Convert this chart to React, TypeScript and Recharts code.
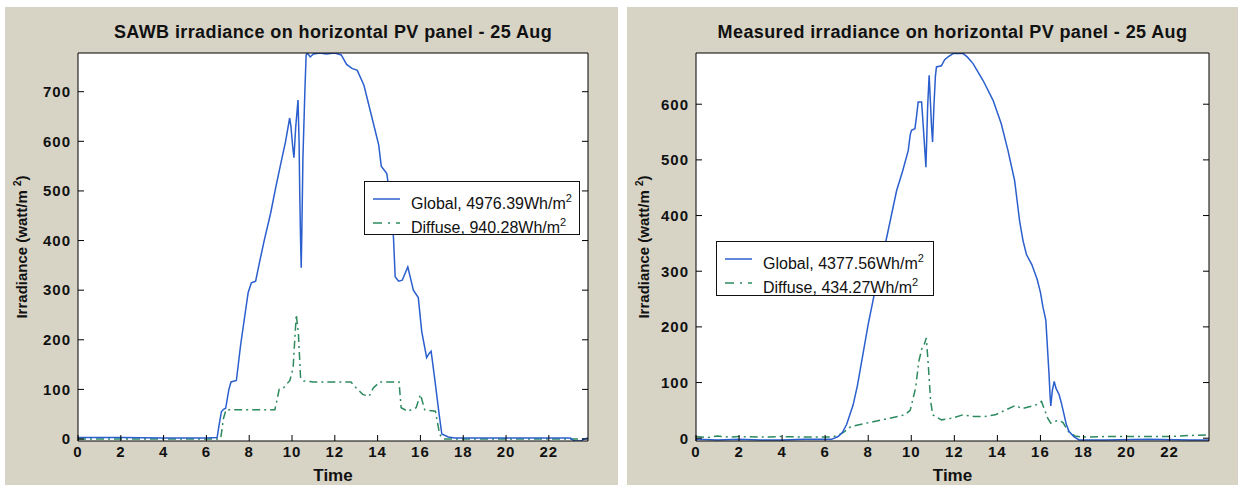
import React from "react";
import { LineChart, Line, XAxis, YAxis, CartesianGrid, Legend } from "recharts";

// ---- data (hours, W/m2) ----
const X_TICKS = [0, 2, 4, 6, 8, 10, 12, 14, 16, 18, 20, 22];
const X_MAX = 23.83;

const SAWB_Y_TICKS = [0, 100, 200, 300, 400, 500, 600, 700];
const MEAS_Y_TICKS = [0, 100, 200, 300, 400, 500, 600];

const SAWB_GLOBAL_T = [
  0, 2, 4, 6, 6.5, 6.6, 6.7, 6.8, 6.9, 7.05, 7.15, 7.4, 7.6, 7.8, 7.95, 8.1, 8.3, 8.5, 8.7, 9.0,
  9.24, 9.5, 9.7, 9.89, 9.95, 10.03, 10.09, 10.17, 10.28, 10.33, 10.36, 10.4, 10.43, 10.46, 10.51,
  10.6, 10.66, 10.72, 10.85, 11.0, 11.3, 11.6, 12.0, 12.3, 12.55, 12.8, 13.05, 13.36, 13.74, 14.05,
  14.17, 14.43, 14.6, 14.74, 14.82, 14.98, 15.15, 15.41, 15.67, 15.9, 16.06, 16.29, 16.4, 16.5,
  16.68, 16.87, 17.0, 17.3, 17.6, 20, 23.0, 23.2, 23.5, 23.6, 23.83,
];
const SAWB_GLOBAL_V = [
  3, 3, 2, 2, 3, 30, 55, 60, 62, 100, 115, 118, 190, 250, 295, 315, 318, 360, 400, 455,
  507, 560, 600, 647, 630, 590, 567, 627, 683, 600, 500, 400, 345, 420, 567,
  700, 774, 778, 770, 776, 778, 776, 778, 774, 755, 747, 743, 713, 647, 593,
  550, 535, 480, 407, 327, 318, 320, 347, 300, 285, 217, 164, 172, 177,
  117, 51, 10, 4, 2, 2, 2, -4, -4, -1, 2,
];

const SAWB_DIFFUSE_T = [
  0, 3, 6.6, 6.67, 6.8, 6.92, 8, 9.2, 9.4, 9.6, 9.9, 10.05, 10.2, 10.3, 10.4, 10.55, 11.0, 12.0,
  12.75, 13.0, 13.3, 13.6, 13.8, 14.1, 15.0, 15.1, 15.4, 15.8, 16.0, 16.2, 16.7, 16.9, 17.1, 20,
  23.83,
];
const SAWB_DIFFUSE_V = [
  0, 0, 0, 2, 42, 59, 59, 59, 100, 103, 118, 143, 251, 211, 123, 117, 115, 115,
  115, 103, 90, 86, 103, 115, 115, 63, 56, 63, 90, 59, 56, 9, 0, 0,
  0,
];

const MEAS_GLOBAL_T = [
  0, 1, 2, 3, 4, 5, 6, 6.3, 6.6, 6.8, 7.0, 7.3, 7.5, 8.0, 8.5, 8.86, 9.32, 9.6, 9.86, 9.95, 10.01,
  10.17, 10.25, 10.32, 10.48, 10.54, 10.6, 10.68, 10.72, 10.76, 10.83, 10.9, 10.94, 10.99, 11.05,
  11.12, 11.17, 11.4, 11.55, 11.71, 11.94, 12.41, 12.6, 12.87, 13.33, 13.8, 14.18, 14.49, 14.8,
  15.03, 15.19, 15.35, 15.6, 15.85, 16.0, 16.12, 16.25, 16.33, 16.4, 16.45, 16.48, 16.55, 16.64,
  16.72, 16.87, 16.98, 17.1, 17.2, 17.33, 17.55, 17.8, 19, 21, 23, 23.83,
];
const MEAS_GLOBAL_V = [
  -2, -3, -2, -3, -3, -2, -2, -2, 3, 10, 25, 60, 95, 205, 300, 361, 445, 480, 517, 545, 553,
  556, 580, 604, 604, 570, 535, 487, 540, 595, 652, 595, 560, 532, 595,
  650, 667, 669, 680, 685, 691, 691, 685, 673, 643, 607, 565, 517, 463,
  391, 355, 330, 312, 285, 262, 235, 212, 160, 114, 75, 58, 85, 102,
  90, 78, 62, 42, 25, 12, 3, -3, -3, -2, -3, -3,
];

const MEAS_DIFFUSE_T = [
  0, 0.5, 1, 1.5, 2, 3, 4, 5, 6, 6.3, 6.6, 6.9, 7.2, 7.9, 8.9, 9.7, 9.95, 10.2, 10.35, 10.5, 10.6,
  10.7, 10.8, 10.9, 11.0, 11.4, 11.9, 12.4, 12.9, 13.4, 13.9, 14.4, 14.85, 15.15, 15.65, 15.8,
  16.05, 16.2, 16.35, 16.48, 16.6, 16.88, 17.05, 17.3, 17.6, 18, 19, 20, 21, 22, 23, 23.83,
];
const MEAS_DIFFUSE_V = [
  3, 1, 4, 2, 3, 2, 3, 2, 2, 2, 5, 12, 21, 27, 35, 42, 50, 90, 138, 162, 168,
  180, 126, 66, 42, 33, 36, 42, 39, 39, 42, 51, 59, 53, 58, 60,
  66, 50, 35, 27, 30, 32, 28, 12, 4, 2, 3, 3, 3, 3, 5, 6,
];

const FONT = "'Liberation Sans', Arial, Helvetica, sans-serif";
const BLUE = "#2b5fce";
const GREEN = "#2c8a5e";
const PANEL_BG = "#d7d4c6";

const toPoints = (t: number[], v: number[]) => t.map((x, i) => ({ t: x, v: v[i] }));

interface LegendSpec {
  left: number;
  top: number;
  width: number;
  height: number;
  globalText: string;
  diffuseText: string;
}

const LegendBox = ({ spec }: { spec: LegendSpec }) => {
  const row = (y: number, color: string, dash: string | undefined, text: string) => (
    <div style={{ position: "absolute", left: 0, top: y - 12, height: 24, width: "100%" }}>
      <svg width={40} height={24} style={{ position: "absolute", left: 0, top: 0 }}>
        <line x1={8} x2={35} y1={12} y2={12} stroke={color} strokeWidth={1.5} strokeDasharray={dash} />
      </svg>
      <div
        style={{
          position: "absolute",
          left: 46,
          top: 0,
          lineHeight: "24px",
          fontSize: 16,
          fontFamily: FONT,
          color: "#111",
          whiteSpace: "nowrap",
        }}
      >
        {text}
        <sup style={{ fontSize: 11, position: "relative", top: -1 }}>2</sup>
      </div>
    </div>
  );
  return (
    <div
      style={{
        position: "relative",
        width: spec.width,
        height: spec.height,
        boxSizing: "border-box",
        background: "#fff",
        border: "1px solid #111",
      }}
    >
      {row(17, BLUE, undefined, spec.globalText)}
      {row(41, GREEN, "9 6 2 6", spec.diffuseText)}
    </div>
  );
};

interface PanelProps {
  left: number;
  width: number;
  title: string;
  plotLeft: number;
  plotRight: number;
  yDomain: [number, number];
  yTicks: number[];
  globalPts: { t: number; v: number }[];
  diffusePts: { t: number; v: number }[];
  legend: LegendSpec;
}

const PANEL_H = 478;
const PLOT_TOP = 46;
const PLOT_BOTTOM = 14;
const Y_AXIS_W = 40;
const X_AXIS_H = 30;
// the top and right axes only carry the inward tick marks of the box
const BOX_AXIS = 1;

const Panel = (p: PanelProps) => {
  const plotW = p.width - p.plotLeft - p.plotRight;
  const tickStyle = { fill: "#111", fontSize: 15, fontWeight: 700, fontFamily: FONT, letterSpacing: 1 };
  return (
    <div
      style={{
        position: "absolute",
        left: p.left,
        top: 7,
        width: p.width,
        height: PANEL_H,
        background: PANEL_BG,
      }}
    >
      <div
        style={{
          position: "absolute",
          left: p.plotLeft - 60,
          width: plotW + 120,
          top: 16,
          textAlign: "center",
          fontFamily: FONT,
          fontWeight: 700,
          fontSize: 18,
          letterSpacing: 0.4,
          lineHeight: "18px",
          color: "#111",
          whiteSpace: "nowrap",
        }}
      >
        {p.title}
      </div>
      <div
        style={{
          position: "absolute",
          left: 16,
          top: PLOT_TOP + 194,
          transform: "translate(-50%, -50%) rotate(-90deg)",
          fontFamily: FONT,
          fontWeight: 700,
          fontSize: 15,
          color: "#111",
          whiteSpace: "nowrap",
        }}
      >
        Irradiance (watt/m <sup style={{ fontSize: 10 }}>2</sup>)
      </div>
      <div
        style={{
          position: "absolute",
          left: p.plotLeft,
          width: plotW,
          top: 460,
          textAlign: "center",
          fontFamily: FONT,
          fontWeight: 700,
          fontSize: 17,
          lineHeight: "17px",
          color: "#111",
        }}
      >
        Time
      </div>
      <div style={{ position: "absolute", left: 0, top: 0 }}>
        <LineChart
          width={p.width}
          height={PANEL_H}
          margin={{
            top: PLOT_TOP - BOX_AXIS,
            right: p.plotRight - BOX_AXIS,
            bottom: PLOT_BOTTOM,
            left: p.plotLeft - Y_AXIS_W,
          }}
        >
          <CartesianGrid xAxisId="b" yAxisId="l" horizontal={false} vertical={false} fill="#ffffff" />
          <Line
            xAxisId="b"
            yAxisId="l"
            data={p.diffusePts}
            dataKey="v"
            name="Diffuse"
            type="linear"
            stroke={GREEN}
            strokeWidth={1.5}
            strokeDasharray="8 4 2 4"
            dot={false}
            activeDot={false}
            isAnimationActive={false}
          />
          <Line
            xAxisId="b"
            yAxisId="l"
            data={p.globalPts}
            dataKey="v"
            name="Global"
            type="linear"
            stroke={BLUE}
            strokeWidth={1.5}
            dot={false}
            activeDot={false}
            isAnimationActive={false}
          />
          <XAxis
            xAxisId="b"
            type="number"
            dataKey="t"
            domain={[0, X_MAX]}
            ticks={X_TICKS}
            interval={0}
            allowDataOverflow
            height={X_AXIS_H}
            tickSize={-6}
            tickMargin={11}
            axisLine={{ stroke: "#000" }}
            tickLine={{ stroke: "#000" }}
            tick={tickStyle}
          />
          <XAxis
            xAxisId="t"
            orientation="top"
            type="number"
            domain={[0, X_MAX]}
            ticks={X_TICKS}
            interval={0}
            allowDataOverflow
            height={BOX_AXIS}
            tickSize={-6}
            axisLine={{ stroke: "#000" }}
            tickLine={{ stroke: "#000" }}
            tick={{ fill: "none", fontSize: 1 }}
            tickFormatter={() => ""}
          />
          <YAxis
            yAxisId="l"
            type="number"
            domain={p.yDomain}
            ticks={p.yTicks}
            interval={0}
            allowDataOverflow
            width={Y_AXIS_W}
            tickSize={-6}
            tickMargin={13}
            axisLine={{ stroke: "#000" }}
            tickLine={{ stroke: "#000" }}
            tick={tickStyle}
          />
          <YAxis
            yAxisId="r"
            orientation="right"
            type="number"
            domain={p.yDomain}
            ticks={p.yTicks}
            interval={0}
            allowDataOverflow
            width={BOX_AXIS}
            tickSize={-6}
            axisLine={{ stroke: "#000" }}
            tickLine={{ stroke: "#000" }}
            tick={{ fill: "none", fontSize: 1 }}
            tickFormatter={() => ""}
          />
          <Legend
            layout="vertical"
            align="center"
            verticalAlign="middle"
            width={p.legend.width}
            height={p.legend.height}
            wrapperStyle={{
              left: p.legend.left,
              top: p.legend.top,
              width: p.legend.width,
              height: p.legend.height,
            }}
            content={() => <LegendBox spec={p.legend} />}
          />
        </LineChart>
      </div>
    </div>
  );
};

export default function App() {
  return (
    <div
      style={{
        position: "absolute",
        left: 0,
        top: 0,
        width: 1243,
        height: 488,
        background: "#ffffff",
        overflow: "hidden",
      }}
    >
      <Panel
        left={5}
        width={613}
        title="SAWB irradiance on horizontal PV panel - 25 Aug"
        plotLeft={73}
        plotRight={30}
        yDomain={[-4, 778]}
        yTicks={SAWB_Y_TICKS}
        globalPts={toPoints(SAWB_GLOBAL_T, SAWB_GLOBAL_V)}
        diffusePts={toPoints(SAWB_DIFFUSE_T, SAWB_DIFFUSE_V)}
        legend={{
          left: 359,
          top: 174,
          width: 216,
          height: 54,
          globalText: "Global, 4976.39Wh/m",
          diffuseText: "Diffuse, 940.28Wh/m",
        }}
      />
      <Panel
        left={627}
        width={611}
        title="Measured irradiance on horizontal PV panel - 25 Aug"
        plotLeft={69}
        plotRight={29}
        yDomain={[-5, 692]}
        yTicks={MEAS_Y_TICKS}
        globalPts={toPoints(MEAS_GLOBAL_T, MEAS_GLOBAL_V)}
        diffusePts={toPoints(MEAS_DIFFUSE_T, MEAS_DIFFUSE_V)}
        legend={{
          left: 89,
          top: 234,
          width: 218,
          height: 55,
          globalText: "Global, 4377.56Wh/m",
          diffuseText: "Diffuse, 434.27Wh/m",
        }}
      />
    </div>
  );
}
